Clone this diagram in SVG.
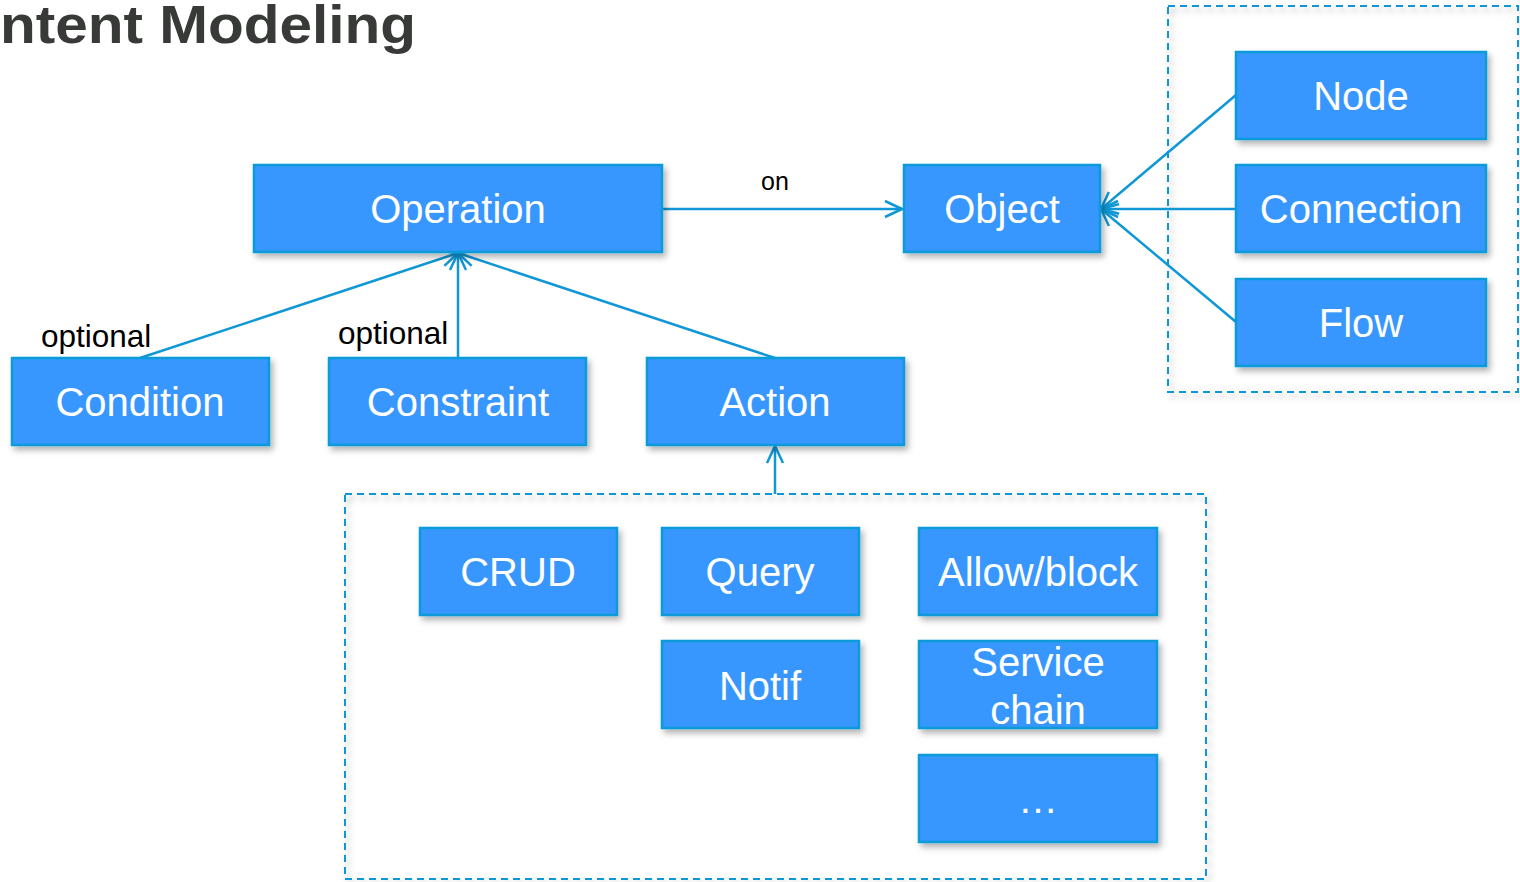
<svg xmlns="http://www.w3.org/2000/svg" width="1520" height="882" viewBox="0 0 1520 882">
<defs>
<filter id="sh" x="-10%" y="-20%" width="130%" height="150%">
<feDropShadow dx="3" dy="4" stdDeviation="3" flood-color="#000" flood-opacity="0.3"/>
</filter>
<marker id="arr" viewBox="0 0 20 20" refX="19" refY="10" markerWidth="20" markerHeight="20" markerUnits="userSpaceOnUse" orient="auto">
<path d="M2,2 L19,10 L2,18" fill="none" stroke="#1097d6" stroke-width="2.5"/>
</marker>
<style>
.n rect{fill:#3797ff;stroke:#0b9ad8;stroke-width:2.5;filter:url(#sh)}
.n text{fill:#fff;font-family:"Liberation Sans",Arial,sans-serif;font-size:40px;text-anchor:middle}
.c{stroke:#1097d6;stroke-width:2.5;fill:none}
.d{fill:none;stroke:#1097d6;stroke-width:2;stroke-dasharray:7,5}
.lbl{font-family:"Liberation Sans",Arial,sans-serif;fill:#000}
</style>
</defs>
<rect width="1520" height="882" fill="#fff"/>
<text x="0" y="43" font-family="'Liberation Sans',Arial,sans-serif" font-size="54" font-weight="bold" fill="#383a38" textLength="416" lengthAdjust="spacingAndGlyphs">ntent Modeling</text>

<g id="groups">
<rect class="d" x="1168" y="6" width="350" height="386" filter="url(#sh)"/>
<rect class="d" x="345" y="494" width="861" height="385" filter="url(#sh)"/>
</g>

<g id="connectors">
<line class="c" x1="662" y1="209" x2="902" y2="209" marker-end="url(#arr)"/>
<line class="c" x1="140" y1="358" x2="458" y2="253" marker-end="url(#arr)"/>
<line class="c" x1="458" y1="358" x2="458" y2="253" marker-end="url(#arr)"/>
<line class="c" x1="775" y1="358" x2="458" y2="253" marker-end="url(#arr)"/>
<line class="c" x1="1236" y1="95" x2="1101" y2="209" marker-end="url(#arr)"/>
<line class="c" x1="1236" y1="209" x2="1101" y2="209" marker-end="url(#arr)"/>
<line class="c" x1="1236" y1="322" x2="1101" y2="209" marker-end="url(#arr)"/>
<line class="c" x1="775" y1="494" x2="775" y2="446" marker-end="url(#arr)"/>
<text class="lbl" x="775" y="190" font-size="25" text-anchor="middle">on</text>
<text class="lbl" x="41" y="347" font-size="31.5">optional</text>
<text class="lbl" x="338" y="344" font-size="31.5">optional</text>
</g>

<g id="operation" class="n"><rect x="254" y="165" width="408" height="87"/><text x="458" y="223">Operation</text></g>
<g id="object" class="n"><rect x="904" y="165" width="196" height="87"/><text x="1002" y="223">Object</text></g>
<g id="node" class="n"><rect x="1236" y="52" width="250" height="87"/><text x="1361" y="110">Node</text></g>
<g id="connection" class="n"><rect x="1236" y="165" width="250" height="87"/><text x="1361" y="223">Connection</text></g>
<g id="flow" class="n"><rect x="1236" y="279" width="250" height="87"/><text x="1361" y="337">Flow</text></g>
<g id="condition" class="n"><rect x="12" y="358" width="257" height="87"/><text x="140" y="416">Condition</text></g>
<g id="constraint" class="n"><rect x="329" y="358" width="257" height="87"/><text x="458" y="416">Constraint</text></g>
<g id="action" class="n"><rect x="647" y="358" width="257" height="87"/><text x="775" y="416">Action</text></g>
<g id="crud" class="n"><rect x="420" y="528" width="197" height="87"/><text x="518" y="586">CRUD</text></g>
<g id="query" class="n"><rect x="662" y="528" width="197" height="87"/><text x="760" y="586">Query</text></g>
<g id="allowblock" class="n"><rect x="919" y="528" width="238" height="87"/><text x="1038" y="586">Allow/block</text></g>
<g id="notif" class="n"><rect x="662" y="641" width="197" height="87"/><text x="760" y="700">Notif</text></g>
<g id="servicechain" class="n"><rect x="919" y="641" width="238" height="87"/><text x="1038" y="676">Service</text><text x="1038" y="724">chain</text></g>
<g id="more" class="n"><rect x="919" y="755" width="238" height="87"/><text x="1038" y="813">…</text></g>
</svg>
